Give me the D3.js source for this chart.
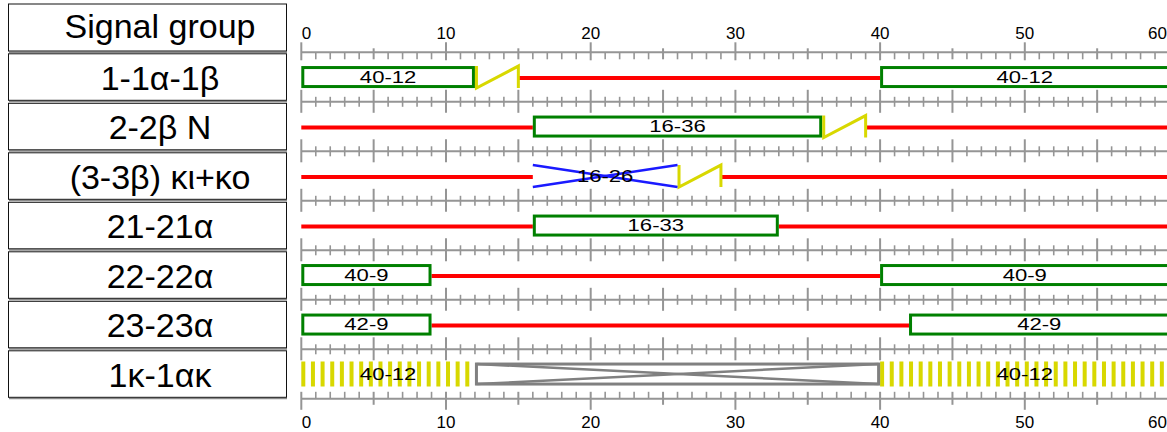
<!DOCTYPE html>
<html>
<head>
<meta charset="utf-8">
<script src="https://cdn.jsdelivr.net/npm/d3@7"></script>
<style>
html,body{margin:0;padding:0;background:#fff;}
svg{display:block;font-family:Arial,"Liberation Sans",sans-serif;}
</style>
</head>
<body>
<svg id="chart" width="1167" height="432"></svg>
<script>
// ---- data ----
const headerLabel = "Signal group";
const groups = ["1-1α-1β","2-2β N","(3-3β) κι+κο","21-21α","22-22α","23-23α","1κ-1ακ"];
const tickLabels = [0,10,20,30,40,50,60];
// [row, start, end, label]
const greenPhases = [[0,0,12,"40-12"],[0,40,60,"40-12"],[1,16,36,"16-36"],[3,16,33,"16-33"],
                     [4,0,9,"40-9"],[4,40,60,"40-9"],[5,0,9,"42-9"],[5,42,60,"42-9"]];
const redPhases = [[0,15,40],[1,0,16],[1,39,60],[2,0,16],[2,29,60],[3,0,16],[3,33,60],[4,9,40],[5,9,42]];
const amberPhases = [[0,12,15],[1,36,39],[2,26,29]];
const conflictPhases = [[2,16,26,"16-26"]];
const flashPhases = [[6,0,12,"40-12"],[6,40,60,"40-12"]];
const darkPhases = [[6,12,40]];

// ---- scales ----
const svg = d3.select("#chart");
const x = d3.scaleLinear().domain([0,60]).range([301.3,1169.5]);
const yb = d3.scaleLinear().domain([0,groups.length]).range([52.3,398.8]);
const cy = i => yb(i+0.5);

const GREEN="#008000", RED="#ff0000", AMBER="#d8d800", BLUE="#1a1aff", GREY="#808080", TICK="#959595";

// ---- left table ----
const tbl = svg.append("g");
const boxes = [{label:headerLabel, y0:4, y1:51, base:38}].concat(groups.map((g,i)=>{
  const y0 = yb(i)+1.5, y1 = yb(i+1)-1.5;
  return {label:g, y0:y0, y1:y1, base:(y0+y1)/2+12.5};
}));
boxes.forEach(b=>{
  tbl.append("line").attr("x1",9).attr("x2",287).attr("y1",b.y1+1.2).attr("y2",b.y1+1.2)
     .attr("stroke","#8a8a8a").attr("stroke-width",1.5);
  tbl.append("rect").attr("x",8.5).attr("y",b.y0).attr("width",278).attr("height",b.y1-b.y0)
     .attr("fill","#fff").attr("stroke","#111").attr("stroke-width",1);
  tbl.append("text").attr("x",160).attr("y",b.base).attr("text-anchor","middle")
     .attr("font-size",34).attr("fill","#000").text(b.label);
});

// ---- tick rows ----
const tg = svg.append("g").attr("stroke",TICK).attr("stroke-width",1.6);
const units = d3.range(0,61);
for(let k=0;k<=groups.length;k++){
  const y0 = yb(k);
  tg.append("line").attr("x1",x(0)).attr("x2",x(60)).attr("y1",y0).attr("y2",y0).attr("stroke-width",2);
  units.forEach(u=>{
    let a,b;
    const major = u%5===0, ten = u%10===0;
    if(k===0){ if(ten){a=-10;b=8;} else if(major){a=-4;b=7;} else {a=0;b=7;} }
    else if(k===groups.length){ if(ten){a=-7;b=11;} else if(major){a=-7;b=6;} else {a=-7;b=0;} }
    else { if(major){a=-12;b=11;} else {a=-5;b=5;} }
    tg.append("line").attr("x1",x(u)).attr("x2",x(u)).attr("y1",y0+a).attr("y2",y0+b)
      .attr("stroke-width",major?2:1.6);
  });
}

// ---- axis labels ----
const lab = svg.append("g").attr("font-size",17).attr("fill","#000");
tickLabels.forEach(t=>{
  const anchor = t===0 ? "start" : (t===60 ? "end" : "middle");
  const xx = t===60 ? 1167 : (t===0 ? x(t)+0.5 : x(t));
  lab.append("text").attr("x",xx).attr("y",38.5).attr("text-anchor",anchor).text(t);
  lab.append("text").attr("x",xx).attr("y",427.5).attr("text-anchor",anchor).text(t);
});

// ---- phases ----
const ph = svg.append("g");
function barLabel(txt, s, e, row){
  ph.append("text").attr("transform",`translate(${(x(s)+x(e))/2},${cy(row)+5.5}) scale(1.3,1)`)
    .attr("text-anchor","middle").attr("font-size",17).attr("fill","#000").text(txt);
}
redPhases.forEach(([r,s,e])=>{
  ph.append("line").attr("x1",x(s)).attr("x2",x(e)).attr("y1",cy(r)+1).attr("y2",cy(r)+1)
    .attr("stroke",RED).attr("stroke-width",4);
});
greenPhases.forEach(([r,s,e,l])=>{
  const w = x(e)-x(s)-3 + (e===60 ? 6 : 0);
  ph.append("rect").attr("x",x(s)+1.5).attr("y",cy(r)-9.5).attr("width",w).attr("height",19)
    .attr("fill","#fff").attr("stroke",GREEN).attr("stroke-width",3);
  barLabel(l,s,e,r);
});
amberPhases.forEach(([r,s,e])=>{
  const t=cy(r)-11, b=cy(r)+11;
  ph.append("path").attr("d",`M${x(s)+1.5},${t}L${x(s)+1.5},${b}L${x(e)},${t}L${x(e)},${b}`)
    .attr("fill","none").attr("stroke",AMBER).attr("stroke-width",3);
});
conflictPhases.forEach(([r,s,e,l])=>{
  const t=cy(r)-11, b=cy(r)+11;
  ph.append("line").attr("x1",x(s)).attr("y1",t).attr("x2",x(e)).attr("y2",b).attr("stroke",BLUE).attr("stroke-width",2.5);
  ph.append("line").attr("x1",x(s)).attr("y1",b).attr("x2",x(e)).attr("y2",t).attr("stroke",BLUE).attr("stroke-width",2.5);
  barLabel(l,s,e,r);
});
const period = (x(1)-x(0))*2/3;
flashPhases.forEach(([r,s,e,l])=>{
  ph.append("line").attr("x1",x(s)).attr("x2",x(e)).attr("y1",cy(r)).attr("y2",cy(r))
    .attr("stroke",AMBER).attr("stroke-width",25).attr("stroke-dasharray",`4,${period-4}`);
  barLabel(l,s,e,r);
});
darkPhases.forEach(([r,s,e])=>{
  const t=cy(r)-10, b=cy(r)+10;
  ph.append("rect").attr("x",x(s)+1.5).attr("y",t).attr("width",x(e)-x(s)-3).attr("height",b-t)
    .attr("fill","#fff").attr("stroke",GREY).attr("stroke-width",3);
  ph.append("line").attr("x1",x(s)+1.5).attr("y1",t).attr("x2",x(e)-1.5).attr("y2",b).attr("stroke",GREY).attr("stroke-width",2.5);
  ph.append("line").attr("x1",x(s)+1.5).attr("y1",b).attr("x2",x(e)-1.5).attr("y2",t).attr("stroke",GREY).attr("stroke-width",2.5);
});
</script>
</body>
</html>
